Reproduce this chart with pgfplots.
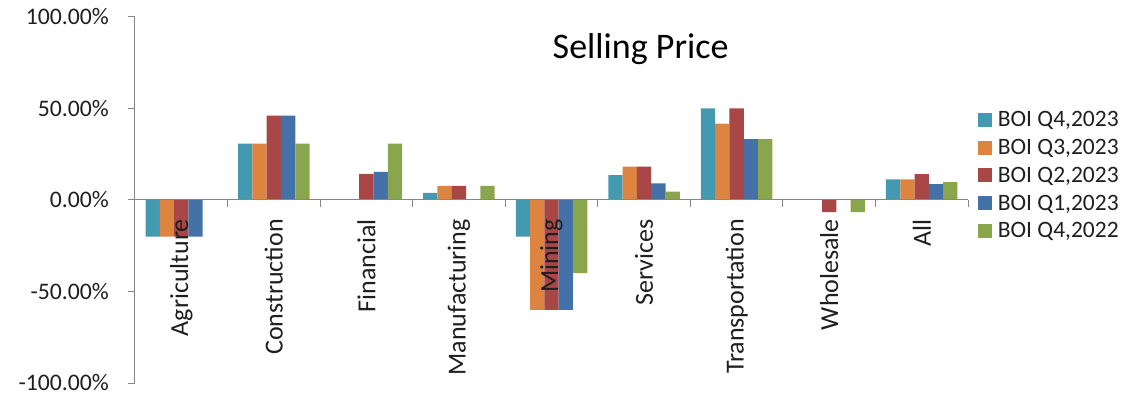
\documentclass[border=0pt]{standalone}
\usepackage{pgfplots}
\pgfplotsset{compat=1.18}
\usepackage{fontspec}
\setmainfont{Carlito}
\definecolor{cA}{HTML}{4299B0}
\definecolor{cB}{HTML}{DD8440}
\definecolor{cC}{HTML}{A94646}
\definecolor{cD}{HTML}{4472A8}
\definecolor{cE}{HTML}{8AA64C}
\definecolor{axgray}{HTML}{868686}
\begin{document}
\begin{tikzpicture}
\useasboundingbox (-135pt,-16pt) rectangle (992pt,383pt);
\begin{axis}[
  at={(0pt,0pt)}, anchor=south west,
  scale only axis, width=833pt, height=366pt,
  xmin=-0.5, xmax=8.5, ymin=-100, ymax=100,
  axis y line=left, axis x line=middle,
  hide obscured x ticks=false,
  hide obscured y ticks=false,
  axis on top,
  axis line style={draw=axgray, line width=1pt, -},
  tick style={draw=axgray, line width=1pt},
  tick align=outside,
  xtick align=outside,
  major tick length=7pt,
  xtick={-0.5,0.5,...,8.5},
  xticklabels={Agriculture,Construction,Financial,Manufacturing,Mining,Services,Transportation,Wholesale,All},
  x tick label as interval,
  xticklabel style={yshift=-12pt, rotate=90, anchor=east, font=\fontsize{26}{29}\selectfont, text=black!88, inner sep=0pt},
  ytick={-100,-50,0,50,100},
  yticklabels={-100.00\%,-50.00\%,0.00\%,50.00\%,100.00\%},
  yticklabel style={font=\fontsize{23.7}{27}\selectfont, text=black!88, inner sep=0pt, xshift=-19pt},
  ybar=0pt, bar width=14.3pt,
  title={Selling Price},
  title style={at={(0.607,0.896)}, anchor=center, font=\fontsize{36}{40}\selectfont, text=black},
  legend style={at={(1.008,0.753)}, anchor=north west, draw=none, fill=none,
    font=\fontsize{23.5}{27}\selectfont, text=black!88, row sep=7pt,
    /tikz/every odd column/.append style={column sep=4pt}},
  legend image code/.code={\fill[#1] (0pt,-7pt) rectangle (14pt,7pt);},
  legend cell align=left,
]
\addplot[fill=cA, draw=none] coordinates {(0,-20) (1,30.77) (2,0) (3,3.85) (4,-20) (5,13.64) (6,50) (7,0) (8,11.3)};
\addplot[fill=cB, draw=none] coordinates {(0,-20) (1,30.77) (2,0) (3,7.69) (4,-60) (5,18.18) (6,41.67) (7,0) (8,11.3)};
\addplot[fill=cC, draw=none] coordinates {(0,-20) (1,46.15) (2,14.29) (3,7.69) (4,-60) (5,18.18) (6,50) (7,-6.67) (8,14.2)};
\addplot[fill=cD, draw=none] coordinates {(0,-20) (1,46.15) (2,15.38) (3,0) (4,-60) (5,9.09) (6,33.33) (7,0) (8,8.7)};
\addplot[fill=cE, draw=none] coordinates {(0,0) (1,30.77) (2,30.77) (3,7.69) (4,-40) (5,4.55) (6,33.33) (7,-6.67) (8,9.8)};
\legend{{BOI Q4,2023},{BOI Q3,2023},{BOI Q2,2023},{BOI Q1,2023},{BOI Q4,2022}}
\end{axis}
\end{tikzpicture}
\end{document}
